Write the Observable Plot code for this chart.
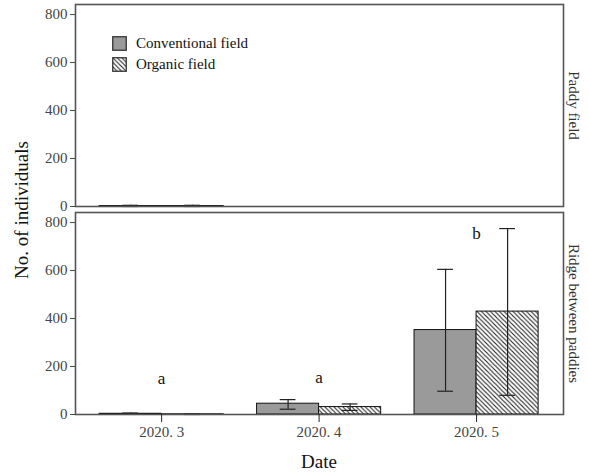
<!DOCTYPE html>
<html>
<head>
<meta charset="utf-8">
<script src="https://cdn.jsdelivr.net/npm/d3@7"></script>
<script src="https://cdn.jsdelivr.net/npm/@observablehq/plot@0.6"></script>
<style>
  body { margin: 0; background: #fff; }
  #wrap { position: relative; width: 589px; height: 474px; font-family: "Liberation Serif", "Times New Roman", serif; }
  #legend { position: absolute; left: 112px; top: 33px; font-size: 15px; color: #111; line-height: 21px; }
  #legend .row { display: flex; align-items: center; }
  #legend svg { margin-right: 9px; }
  #ylab { position: absolute; left: 22px; top: 210px; transform: translate(-50%, -50%) rotate(-90deg); font-size: 19px; white-space: nowrap; color: #111; }
  #xlab { position: absolute; left: 319px; top: 462px; transform: translate(-50%, -50%); font-size: 19px; color: #111; }
</style>
</head>
<body>
<div id="wrap">
  <div id="chart"></div>
  <div id="legend"></div>
  <div id="ylab">No. of individuals</div>
  <div id="xlab">Date</div>
</div>
<script>
// ---- data ----
const dates = ["2020. 3", "2020. 4", "2020. 5"];
const panels = ["Paddy field", "Ridge between paddies"];
const seriesNames = ["Conventional field", "Organic field"];

const conventionalPaddy = [2, 0, 0];
const conventionalPaddyLow = [0, 0, 0];
const conventionalPaddyHigh = [5, 0, 0];
const organicPaddy = [2, 0, 0];
const organicPaddyLow = [0, 0, 0];
const organicPaddyHigh = [5, 0, 0];

const conventionalRidge = [3, 45, 352];
const conventionalRidgeLow = [1, 22, 97];
const conventionalRidgeHigh = [6, 62, 605];
const organicRidge = [1, 31, 429];
const organicRidgeLow = [0, 17, 80];
const organicRidgeHigh = [2, 44, 775];

const letters = ["a", "a", "b"];
const letterY = [150, 155, 755];

const yTicks = [0, 200, 400, 600, 800];

// ---- table ----
const half = 0.394;
const rows = [];
function add(panel, series, vals, lo, hi) {
  vals.forEach((v, i) => {
    rows.push({panel, series, i, value: v, lo: lo[i], hi: hi[i],
      x1: series === seriesNames[0] ? i - half : i,
      x2: series === seriesNames[0] ? i : i + half,
      xc: series === seriesNames[0] ? i - half / 2 : i + half / 2});
  });
}
add(panels[0], seriesNames[0], conventionalPaddy, conventionalPaddyLow, conventionalPaddyHigh);
add(panels[0], seriesNames[1], organicPaddy, organicPaddyLow, organicPaddyHigh);
add(panels[1], seriesNames[0], conventionalRidge, conventionalRidgeLow, conventionalRidgeHigh);
add(panels[1], seriesNames[1], organicRidge, organicRidgeLow, organicRidgeHigh);
const conv = rows.filter(d => d.series === seriesNames[0]);
const org = rows.filter(d => d.series === seriesNames[1]);
const errs = rows.filter(d => d.hi > d.lo);
const labels = letters.map((t, i) => ({panel: panels[1], i, t, y: letterY[i]}));

const capHalf = 0.05;

const chart = Plot.plot({
  width: 589,
  height: 474,
  marginLeft: 75,
  marginRight: 26,
  marginTop: 4,
  marginBottom: 60,
  style: {fontFamily: "'Liberation Serif', 'Times New Roman', serif", background: "#fff"},
  x: {domain: [-0.547, 2.552]},
  y: {domain: [0, 842]},
  fy: {domain: panels, paddingInner: 0.03, paddingOuter: 0},
  marks: [
    Plot.rect(conv, {x1: "x1", x2: "x2", y1: 0, y2: "value", fy: "panel", fill: "#9a9a9a", stroke: "#111", strokeWidth: 1}),
    Plot.rect(org, {x1: "x1", x2: "x2", y1: 0, y2: "value", fy: "panel", fill: "url(#hatch)", stroke: "#111", strokeWidth: 1}),
    Plot.ruleX(errs, {x: "xc", y1: "lo", y2: "hi", fy: "panel", stroke: "#222", strokeWidth: 1.2}),
    Plot.ruleY(errs, {y: "hi", x1: d => d.xc - capHalf, x2: d => d.xc + capHalf, fy: "panel", stroke: "#222", strokeWidth: 1.2}),
    Plot.ruleY(errs, {y: "lo", x1: d => d.xc - capHalf, x2: d => d.xc + capHalf, fy: "panel", stroke: "#222", strokeWidth: 1.2}),
    Plot.ruleY(panels.map(p => ({panel: p})), {y: 0, fy: "panel", stroke: "#222", strokeWidth: 1.2}),
    Plot.text(labels, {x: "i", y: "y", text: "t", fy: "panel", fontSize: 17, fill: "#111"}),
    Plot.frame({stroke: "#555", strokeWidth: 1.6}),
    Plot.axisY({ticks: yTicks, tickSize: 5, tickPadding: 3, label: null, fontSize: 15, color: "#444", stroke: "#444"}),
    Plot.axisX({ticks: [0, 1, 2], tickFormat: i => dates[i], tickSize: 8, tickPadding: 4, label: null, fontSize: 15, color: "#444", stroke: "#222"}),
    Plot.axisFy({anchor: "right", tickRotate: 90, tickSize: 0, tickPadding: 16, label: null, fontSize: 15, color: "#333"})
  ]
});

// hatch pattern definition
const ns = "http://www.w3.org/2000/svg";
const defs = document.createElementNS(ns, "defs");
defs.innerHTML = `<pattern id="hatch" patternUnits="userSpaceOnUse" width="4.5" height="4.5">
  <rect width="4.5" height="4.5" fill="#fff"></rect>
  <path d="M-1,-1 L5.5,5.5 M-1,3.5 L1,5.5 M3.5,-1 L5.5,1" stroke="#222" stroke-width="1.1"></path>
</pattern>`;
chart.insertBefore(defs, chart.firstChild);
document.getElementById("chart").appendChild(chart);

// legend
const leg = document.getElementById("legend");
seriesNames.forEach((name, k) => {
  const row = document.createElement("div");
  row.className = "row";
  const fill = k === 0 ? "#9a9a9a" : "url(#hatchL)";
  row.innerHTML = `<svg width="15" height="15">
    <defs><pattern id="hatchL" patternUnits="userSpaceOnUse" width="4.5" height="4.5">
      <rect width="4.5" height="4.5" fill="#fff"></rect>
      <path d="M-1,-1 L5.5,5.5 M-1,3.5 L1,5.5 M3.5,-1 L5.5,1" stroke="#222" stroke-width="1.1"></path>
    </pattern></defs>
    <rect x="0.75" y="0.75" width="13.5" height="13.5" fill="${fill}" stroke="#333" stroke-width="1.3"></rect></svg><span>${name}</span>`;
  leg.appendChild(row);
});
</script>
</body>
</html>
